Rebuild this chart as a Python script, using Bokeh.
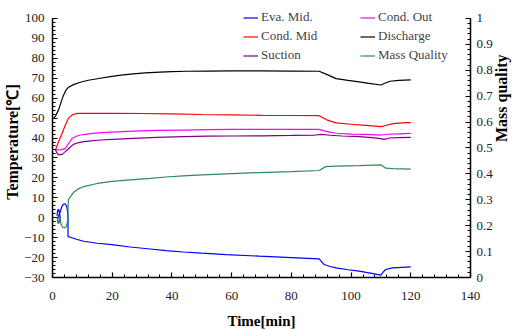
import math
from bokeh.plotting import figure
from bokeh.models import (Range1d, LinearAxis, FixedTicker, Legend, LegendItem)
from bokeh.embed import file_html
from bokeh.resources import INLINE

# ---------------- data ----------------
disch_t = [0.4, 1.0, 2.0, 3.0, 3.7, 4.5, 5.4, 7.0, 9.3, 12.0, 16.0, 19.3, 23.0, 27.0, 31.0, 36.0, 40.0, 45.0, 52.0, 60.0, 70.0, 80.0, 89.3, 92.0, 95.0, 99.0, 102.7, 106.0, 110.0, 111.5, 113.0, 116.0, 120.0]
disch_T = [50.0, 51.0, 54.0, 58.5, 61.5, 64.0, 65.5, 66.8, 68.0, 69.0, 70.0, 70.8, 71.6, 72.2, 72.7, 73.1, 73.3, 73.5, 73.6, 73.7, 73.7, 73.6, 73.5, 71.8, 69.8, 68.9, 68.2, 67.4, 66.6, 67.6, 68.5, 68.9, 69.2]

cmid_t = [1.0, 2.0, 3.2, 4.3, 5.4, 6.5, 7.7, 9.0, 12.0, 20.0, 30.0, 40.0, 50.0, 60.0, 70.0, 80.0, 89.3, 92.0, 95.0, 100.0, 105.0, 110.0, 111.5, 114.0, 117.0, 120.0]
cmid_T = [34.0, 38.0, 42.3, 46.5, 50.0, 51.5, 52.2, 52.4, 52.4, 52.4, 52.3, 52.1, 51.8, 51.6, 51.4, 51.3, 51.2, 49.0, 47.6, 46.9, 46.3, 45.7, 46.3, 47.2, 47.6, 47.7]

cout_t = [1.0, 2.0, 3.0, 4.3, 5.5, 6.6, 8.0, 9.3, 12.0, 16.0, 20.0, 27.0, 35.0, 43.8, 52.0, 60.0, 70.0, 80.0, 89.3, 92.0, 95.0, 100.0, 105.0, 110.0, 112.0, 116.0, 120.0]
cout_T = [34.0, 34.0, 34.2, 34.8, 37.5, 39.8, 40.9, 41.5, 42.1, 42.7, 43.0, 43.5, 43.8, 44.0, 44.2, 44.3, 44.3, 44.3, 44.3, 43.2, 42.4, 42.0, 41.8, 41.5, 41.9, 42.1, 42.3]

suc_t = [1.0, 1.5, 2.0, 3.2, 4.0, 4.9, 6.0, 7.0, 8.5, 10.4, 13.0, 16.0, 20.0, 27.0, 35.0, 44.0, 52.0, 60.0, 70.0, 80.0, 88.0, 90.0, 93.0, 97.0, 102.7, 107.0, 110.0, 111.0, 113.0, 116.0, 120.0]
suc_T = [34.0, 32.5, 31.5, 31.8, 32.8, 34.0, 35.5, 36.8, 37.6, 38.2, 38.6, 39.0, 39.3, 39.8, 40.3, 40.7, 40.9, 41.0, 41.1, 41.3, 41.5, 41.8, 41.4, 41.0, 40.7, 40.2, 39.7, 39.3, 40.0, 40.2, 40.3]

eva_t = [1.5, 1.7, 2.0, 2.4, 2.6, 2.4, 2.0, 1.7, 2.0, 2.5, 2.8, 3.2, 3.7, 4.2, 4.7, 5.0, 5.2, 5.2, 5.2, 5.2, 6.0, 8.0, 10.4, 15.0, 19.9, 26.0, 32.7, 38.0, 43.8, 50.0, 58.2, 69.3, 80.0, 89.3, 91.0, 93.0, 95.0, 99.0, 102.7, 106.0, 110.0, 110.8, 111.6, 113.8, 117.0, 120.0]
eva_T = [1.0, 3.5, 4.3, 2.0, 0.0, -1.8, -2.8, -1.0, 1.0, 2.5, 4.0, 5.8, 6.8, 7.0, 6.0, 3.5, 0.0, -4.0, -7.0, -9.5, -9.8, -10.8, -11.8, -12.8, -13.5, -14.7, -15.7, -16.5, -17.2, -17.8, -18.5, -19.3, -20.0, -20.7, -23.5, -24.5, -25.2, -26.1, -26.8, -27.7, -28.8, -27.2, -26.0, -25.2, -24.9, -24.7]

mq_t = [1.6, 1.7, 2.0, 2.3, 2.4, 2.6, 2.9, 3.4, 4.0, 4.6, 5.0, 5.2, 5.2, 5.3, 6.0, 7.1, 8.5, 10.4, 15.0, 19.9, 26.0, 32.7, 38.0, 43.8, 50.0, 58.2, 69.3, 80.0, 89.3, 91.5, 95.0, 102.7, 110.0, 111.6, 114.0, 117.0, 120.0]
mq_q = [0.231, 0.215, 0.208, 0.223, 0.238, 0.223, 0.204, 0.194, 0.191, 0.196, 0.215, 0.238, 0.269, 0.300, 0.312, 0.329, 0.341, 0.351, 0.363, 0.371, 0.377, 0.383, 0.388, 0.392, 0.396, 0.400, 0.405, 0.409, 0.413, 0.428, 0.430, 0.432, 0.435, 0.422, 0.420, 0.419, 0.418]

x_ticks = [0, 20, 40, 60, 80, 100, 120, 140]
x_minor = list(range(0, 141, 4))
y_ticks = list(range(-30, 101, 10))
y_minor = list(range(-30, 101, 2))
q_ticks = [0.0, 0.1, 0.2, 0.3, 0.4, 0.5, 0.6, 0.7, 0.8, 0.9, 1.0]
q_labels = ["0", "0.1", "0.2", "0.3", "0.4", "0.5", "0.6", "0.7", "0.8", "0.9", "1"]
q_minor = [i / 50 for i in range(0, 51)]

FONT = "Liberation Serif"

# axis limits; the frame reaches a little above 100 so the legend is not clipped
Y_LO, Y_HI, Y_TOP = -30, 100, 106
Q_HI = (Y_TOP - Y_LO) / (Y_HI - Y_LO)

p = figure(width=521, height=331, output_backend="svg", toolbar_location=None,
           x_range=Range1d(0, 140), y_range=Range1d(Y_LO, Y_TOP),
           min_border_left=52, min_border_right=49, min_border_top=6, min_border_bottom=53)
p.extra_y_ranges = {"q": Range1d(0, Q_HI)}
p.outline_line_color = None
p.xgrid.visible = False
p.ygrid.visible = False
p.background_fill_color = "white"

r_eva = p.line(eva_t, eva_T, line_color="#0000ff", line_width=1.2)
r_cmid = p.line(cmid_t, cmid_T, line_color="#ff0000", line_width=1.2)
r_suc = p.line(suc_t, suc_T, line_color="#800080", line_width=1.2)
r_cout = p.line(cout_t, cout_T, line_color="#ff00ff", line_width=1.2)
r_dis = p.line(disch_t, disch_T, line_color="#000000", line_width=1.2)
r_mq = p.line(mq_t, mq_q, line_color="#2e8b57", line_width=1.2, y_range_name="q")

right = LinearAxis(y_range_name="q")
p.add_layout(right, "right")

def style(ax, ticks, minor):
    ax.ticker = FixedTicker(ticks=ticks, minor_ticks=minor)
    ax.major_tick_in = 5
    ax.major_tick_out = 0
    ax.minor_tick_in = 3
    ax.minor_tick_out = 0
    ax.axis_line_color = "black"
    ax.axis_line_width = 1.5
    ax.major_tick_line_width = 1.2
    ax.major_label_text_font = FONT
    ax.major_label_text_font_size = "13px"
    ax.major_label_text_color = "#222222"
    ax.axis_label_text_font = FONT
    ax.axis_label_text_font_style = "bold"
    ax.axis_label_text_font_size = "15px"
    ax.axis_label_text_color = "black"

style(p.xaxis[0], x_ticks, x_minor)
style(p.yaxis[0], y_ticks, y_minor)
style(right, q_ticks, q_minor)
right.major_label_overrides = {t: l for t, l in zip(q_ticks, q_labels)}
p.yaxis[0].bounds = (Y_LO, Y_HI)
right.bounds = (0, 1)

p.xaxis[0].axis_label = "Time[min]"
p.xaxis[0].major_label_standoff = 14
p.xaxis[0].axis_label_standoff = 10
p.yaxis[0].axis_label = "Temperature[℃]"
p.yaxis[0].axis_label_text_font_size = "16px"
p.yaxis[0].major_label_standoff = 8
p.yaxis[0].axis_label_standoff = 0
right.major_label_standoff = 6

# separate right axis that only carries the "Mass quality" title
qlabel = LinearAxis(y_range_name="q", ticker=FixedTicker(ticks=[]),
                    axis_line_color=None, major_tick_line_color=None,
                    minor_tick_line_color=None, bounds=(0, 0.66),
                    axis_label="Mass quality", axis_label_standoff=6,
                    axis_label_text_font=FONT, axis_label_text_font_style="bold",
                    axis_label_text_font_size="16px", axis_label_text_color="black",
                    major_label_text_font_size="0px")
if "axis_label_orientation" in qlabel.properties():
    qlabel.axis_label_orientation = math.pi / 2
p.add_layout(qlabel, "right")

def make_legend(items, x):
    lg = Legend(items=items, location=(x, 214), orientation="vertical",
                border_line_color=None, background_fill_alpha=0,
                padding=0, margin=0, spacing=3, glyph_width=15, glyph_height=15,
                label_standoff=3, label_height=15,
                label_text_font=FONT, label_text_font_size="13px")
    return lg

lg1 = make_legend([LegendItem(label="Eva. Mid.", renderers=[r_eva]),
                   LegendItem(label="Cond. Mid", renderers=[r_cmid]),
                   LegendItem(label="Suction", renderers=[r_suc])], 191)
lg2 = make_legend([LegendItem(label="Cond. Out", renderers=[r_cout]),
                   LegendItem(label="Discharge", renderers=[r_dis]),
                   LegendItem(label="Mass Quality", renderers=[r_mq])], 308)
p.add_layout(lg1, "center")
p.add_layout(lg2, "center")

open("out.html", "w").write(file_html(p, INLINE))
